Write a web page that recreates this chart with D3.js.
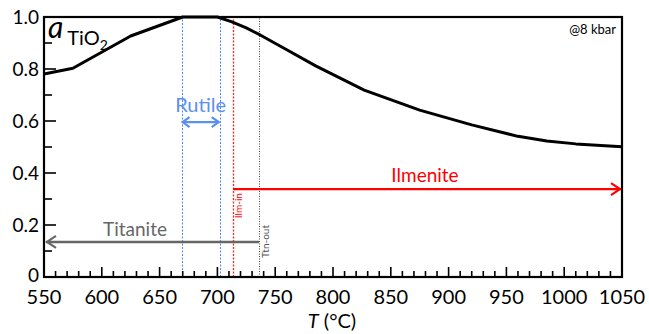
<!DOCTYPE html>
<html>
<head>
<meta charset="utf-8">
<script src="https://cdn.jsdelivr.net/npm/d3@7"></script>
<style>
  body { margin: 0; background: #fff; }
  svg { display: block; font-family: Lato, "Open Sans", sans-serif; }
</style>
</head>
<body>
<div id="chart"></div>
<script>
// a(TiO2) vs temperature
const temps = [550, 575, 625, 670, 700, 712, 725, 737, 760, 785, 827, 875, 920, 960, 985, 1010, 1050];
const aTiO2 = [0.781, 0.803, 0.927, 1.0, 1.0, 0.982, 0.958, 0.931, 0.874, 0.812, 0.719, 0.642, 0.585, 0.541, 0.523, 0.512, 0.501];

const xTickLabels = [550, 600, 650, 700, 750, 800, 850, 900, 950, 1000, 1050];
const yTickLabels = [0, 0.2, 0.4, 0.6, 0.8, 1.0];

// phase boundaries (deg C)
const rutileRange = [669, 702];
const ilmIn = 713.5;
const ttnOut = 736;
// arrow heights (a units)
const rutileLevel = 0.596;
const ilmLevel = 0.338;
const ttnLevel = 0.135;

const width = 649, height = 334;
const mLeft = 44, mRight = 622, mTop = 17, mBottom = 277;

const svg = d3.select("#chart").append("svg")
    .attr("width", width)
    .attr("height", height);

const x = d3.scaleLinear().domain([550, 1050]).range([mLeft, mRight]);
const y = d3.scaleLinear().domain([0, 1]).range([mBottom, mTop]);

const blue = "#5b8ff0", red = "#ff0000", grey = "#666666";

// vertical boundary lines (snapped to pixel centres so the dots stay crisp)
function vline(t, color, dash, w) {
  const px = Math.round(x(t)) + 0.5;
  svg.append("line")
    .attr("x1", px).attr("x2", px)
    .attr("y1", y(0)).attr("y2", y(1))
    .attr("stroke", color)
    .attr("stroke-width", w)
    .attr("stroke-dasharray", dash);
}
vline(rutileRange[0], "#4d88f2", "2,1.5", 1);
vline(rutileRange[1], "#4d88f2", "2,1.5", 1);
vline(ilmIn, "#ff2020", "2,1.5", 1.3);
vline(ttnOut, "#444", "1,1.5", 1);

// chevron arrow head at (px,py) pointing in dir (+1 right, -1 left)
function head(px, py, dir, color, len, half) {
  svg.append("path")
    .attr("d", `M${px - dir * len},${py - half}L${px},${py}L${px - dir * len},${py + half}`)
    .attr("fill", "none")
    .attr("stroke", color)
    .attr("stroke-width", 2.2)
    .attr("stroke-linejoin", "miter");
}

// Rutile double arrow
svg.append("line")
  .attr("x1", x(rutileRange[0]) + 1).attr("x2", x(rutileRange[1]) - 1)
  .attr("y1", y(rutileLevel)).attr("y2", y(rutileLevel))
  .attr("stroke", blue).attr("stroke-width", 2.2);
head(x(rutileRange[0]) + 1, y(rutileLevel), -1, blue, 7, 5);
head(x(rutileRange[1]) - 1, y(rutileLevel), 1, blue, 7, 5);
svg.append("text")
  .attr("x", (x(rutileRange[0]) + x(rutileRange[1])) / 2)
  .attr("y", y(rutileLevel) - 10)
  .attr("text-anchor", "middle")
  .attr("font-size", 20)
  .attr("fill", blue)
  .text("Rutile");

// Ilmenite arrow
svg.append("line")
  .attr("x1", x(ilmIn)).attr("x2", x(1050) - 1)
  .attr("y1", y(ilmLevel)).attr("y2", y(ilmLevel))
  .attr("stroke", red).attr("stroke-width", 2.2);
head(x(1050) - 2, y(ilmLevel), 1, red, 9, 6);
svg.append("text")
  .attr("x", 425)
  .attr("y", y(ilmLevel) - 7)
  .attr("text-anchor", "middle")
  .attr("font-size", 19)
  .attr("fill", red)
  .text("Ilmenite");

// Titanite arrow
svg.append("line")
  .attr("x1", x(ttnOut)).attr("x2", x(550) + 2)
  .attr("y1", y(ttnLevel)).attr("y2", y(ttnLevel))
  .attr("stroke", grey).attr("stroke-width", 2.5);
head(x(550) + 3, y(ttnLevel), -1, grey, 9, 6);
svg.append("text")
  .attr("x", 135)
  .attr("y", y(ttnLevel) - 6)
  .attr("text-anchor", "middle")
  .attr("font-size", 19)
  .attr("fill", grey)
  .text("Titanite");

// rotated boundary labels
svg.append("text")
  .attr("transform", `translate(${x(ilmIn) + 9},${y(ilmLevel) + 4}) rotate(-90)`)
  .attr("text-anchor", "end")
  .attr("font-size", 10)
  .attr("fill", red)
  .text("Ilm-in");
svg.append("text")
  .attr("transform", `translate(${x(ttnOut) + 10},${y(0) - 19}) rotate(-90)`)
  .attr("text-anchor", "start")
  .attr("font-size", 10)
  .attr("fill", "#555")
  .text("Ttn-out");

// curve
const line = d3.line()
  .x((d, i) => x(temps[i]))
  .y(d => y(d));
svg.append("path")
  .datum(aTiO2)
  .attr("d", line)
  .attr("fill", "none")
  .attr("stroke", "#000")
  .attr("stroke-width", 3)
  .attr("stroke-linejoin", "round");

// frame
svg.append("rect")
  .attr("x", mLeft).attr("y", mTop)
  .attr("width", mRight - mLeft).attr("height", mBottom - mTop)
  .attr("fill", "none")
  .attr("stroke", "#000")
  .attr("stroke-width", 2.2);

// x ticks (inside, pointing up)
svg.append("g").selectAll("line")
  .data(d3.range(550, 1051, 10))
  .join("line")
  .attr("x1", d => x(d)).attr("x2", d => x(d))
  .attr("y1", mBottom)
  .attr("y2", d => mBottom - (d % 50 === 0 ? 10 : 6))
  .attr("stroke", "#000").attr("stroke-width", 1.6);

svg.append("g").selectAll("text")
  .data(xTickLabels)
  .join("text")
  .attr("x", d => x(d))
  .attr("y", mBottom + 27)
  .attr("text-anchor", "middle")
  .attr("font-size", 20)
  .text(d => d);

// y ticks (inside, pointing right)
svg.append("g").selectAll("line")
  .data(d3.range(0, 11).map(d => d / 10))
  .join("line")
  .attr("x1", mLeft)
  .attr("x2", (d, i) => mLeft + (i % 2 === 0 ? 12 : 8))
  .attr("y1", d => y(d)).attr("y2", d => y(d))
  .attr("stroke", "#000").attr("stroke-width", 1.6);

svg.append("g").selectAll("text")
  .data(yTickLabels)
  .join("text")
  .attr("x", mLeft - 5)
  .attr("y", d => y(d) + (d === 0 ? 5 : 6.5))
  .attr("text-anchor", "end")
  .attr("font-size", 19)
  .text(d => d === 0 ? "0" : d.toFixed(1));

// axis title
const xt = svg.append("text")
  .attr("x", 332)
  .attr("y", 328)
  .attr("text-anchor", "middle")
  .attr("font-size", 20);
xt.append("tspan").attr("font-style", "italic").text("T");
xt.append("tspan").text(" (°C)");

// a TiO2 label
const at = svg.append("text")
  .attr("x", 48)
  .attr("y", 38)
  .attr("font-size", 30);
at.append("tspan").attr("font-style", "italic").text("a");
at.append("tspan").attr("font-size", 20).attr("dx", 4).attr("dy", 7).text("TiO");
at.append("tspan").attr("font-size", 14).attr("dy", 5).text("2");

// pressure note
svg.append("text")
  .attr("x", mRight - 6)
  .attr("y", 34)
  .attr("text-anchor", "end")
  .attr("font-size", 13)
  .text("@8 kbar");
</script>
</body>
</html>
